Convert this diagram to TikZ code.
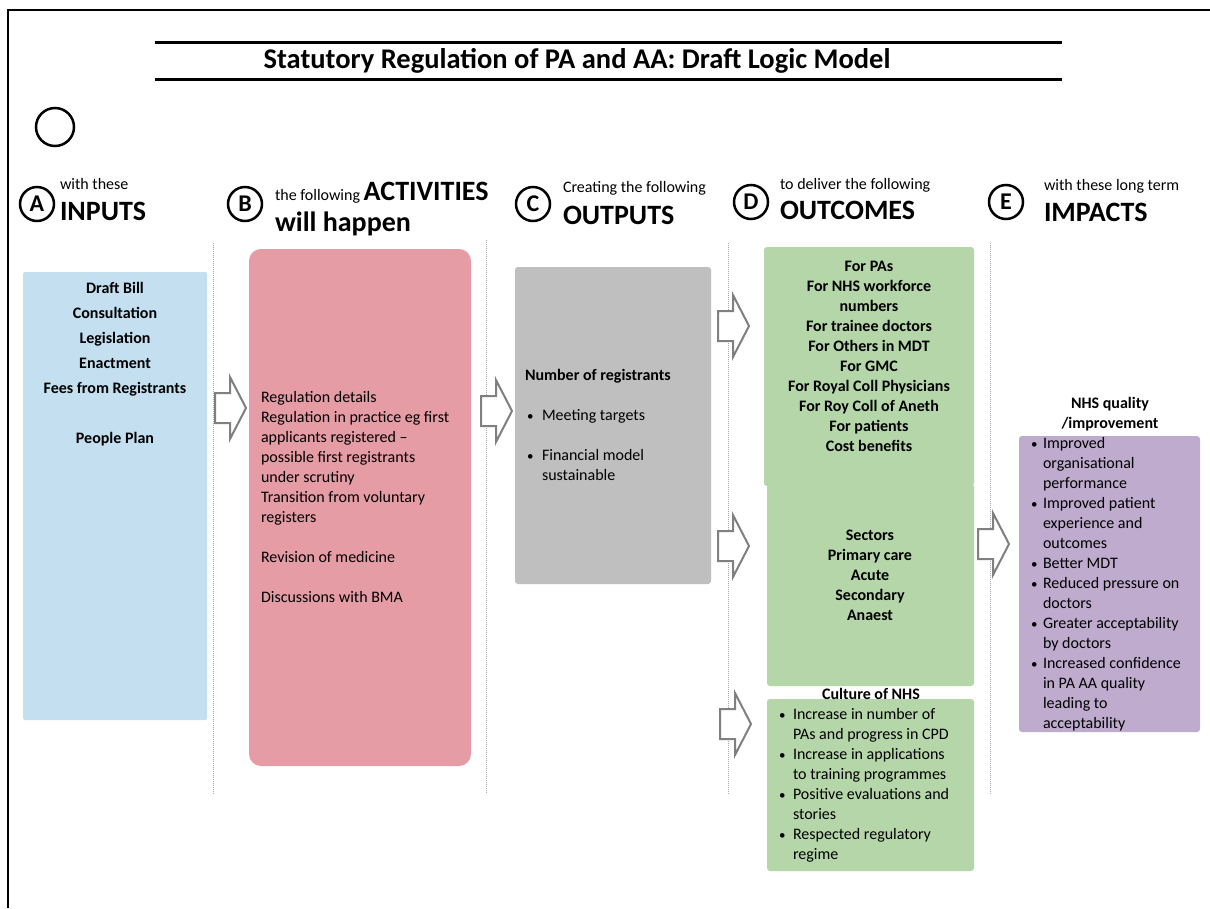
\documentclass[tikz,border=0pt]{standalone}
\usepackage{fontspec}
\setmainfont{Carlito}
\usepackage{array}
\definecolor{inblue}{HTML}{C4E0F0}
\definecolor{actpink}{HTML}{E59CA5}
\definecolor{outgrey}{HTML}{BFBFBF}
\definecolor{ocgreen}{HTML}{B5D6A9}
\definecolor{impurple}{HTML}{BEABCE}
\definecolor{arrgrey}{HTML}{808080}
\newcommand{\fs}[2]{\fontsize{#1}{#2}\selectfont}
\newcommand{\bul}[1]{\makebox[#1][l]{\hspace{2pt}{\fs{13}{13}•}}}
\tikzset{
  box/.style={inner sep=0pt, outer sep=0pt},
  txt/.style={inner sep=0pt, outer sep=0pt},
  sep/.style={draw=gray!70, line width=0.6pt, dash pattern=on 1pt off 1pt},
  circ/.style={circle, draw=black, line width=2.5pt, minimum size=34pt, inner sep=0pt, font=\fs{24}{24}\bfseries},
  blockarr/.style={draw=arrgrey, line width=2pt, fill=white, line join=miter},
}
\newcommand{\blockarrow}[3]{% name, left x, centre y
  \draw[blockarr] (#2,#3-15) -- (#2+15,#3-15) -- (#2+15,#3-31) -- (#2+31,#3) -- (#2+15,#3+31) -- (#2+15,#3+15) -- (#2,#3+15) -- cycle;
  \coordinate (#1) at (#2+15,#3);}
\begin{document}
\begin{tikzpicture}[x=1pt,y=-1pt]
\useasboundingbox (0,0) rectangle (1210,908);
\fill[white] (0,0) rectangle (1210,908);
% frame
\draw[line width=2pt] (8,908) -- (8,10) -- (1212,10);
% title
\draw[line width=3pt] (155,42) -- (1062,42);
\draw[line width=3pt] (155,79) -- (1062,79);
\node[txt, font=\fs{28.5}{28}\bfseries] (title) at (577,61) {Statutory Regulation of PA and AA: Draft Logic Model};
% empty circle
\node[circ, minimum size=38pt] (blank) at (55,127) {};
% headings
\node[circ] (cA) at (37,204) {A};
\node[txt, anchor=base west, font=\fs{16}{16}] (hA1) at (60,189) {with these};
\node[txt, anchor=base west, font=\fs{28}{28}\bfseries] (hA2) at (60,220) {INPUTS};
\node[circ] (cB) at (245,204) {B};
\node[txt, anchor=base west] (hB1) at (275,200) {\fs{16}{16}the following \fs{28}{28}\bfseries ACTIVITIES};
\node[txt, anchor=base west, font=\fs{28}{28}\bfseries] (hB2) at (275,231) {will happen};
\node[circ] (cC) at (533,204) {C};
\node[txt, anchor=base west, font=\fs{16}{16}] (hC1) at (563,192) {Creating the following};
\node[txt, anchor=base west, font=\fs{28}{28}\bfseries] (hC2) at (563,224) {OUTPUTS};
\node[circ] (cD) at (751,202) {D};
\node[txt, anchor=base west, font=\fs{16}{16}] (hD1) at (780,189) {to deliver the following};
\node[txt, anchor=base west, font=\fs{28}{28}\bfseries] (hD2) at (780,219) {OUTCOMES};
\node[circ] (cE) at (1006,202) {E};
\node[txt, anchor=base west, font=\fs{16}{16}] (hE1) at (1044,190) {with these long term};
\node[txt, anchor=base west, font=\fs{28}{28}\bfseries] (hE2) at (1044,221) {IMPACTS};
% separators
\draw[sep] (213,243) -- (213,795);
\draw[sep] (486,240) -- (486,793);
\draw[sep] (728,243) -- (728,795);
\draw[sep] (990,243) -- (990,795);
% boxes
\fill[inblue, rounded corners=2pt] (23,272) rectangle (207,720);
\fill[actpink, rounded corners=12pt] (249,249) rectangle (471,766);
\fill[outgrey, rounded corners=3pt] (515,267) rectangle (711,584);
\fill[ocgreen, rounded corners=3pt] (764,247) rectangle (974,486);
\fill[ocgreen, rounded corners=3pt] (767,484) rectangle (974,686);
\fill[ocgreen, rounded corners=3pt] (767,699) rectangle (974,871);
\fill[impurple, rounded corners=3pt] (1019,436) rectangle (1200,732);
% texts
\node[txt, anchor=north, font=\fs{16}{25}\bfseries] (inputs) at (115,276)
 {\begin{tabular}{@{}c@{}}Draft Bill\\Consultation\\Legislation\\Enactment\\Fees from Registrants\\ \\People Plan\end{tabular}};
\node[txt, anchor=north west, font=\fs{16}{20}] (acts) at (261,388)
 {\begin{tabular}{@{}l@{}}Regulation details\\Regulation in practice eg first\\applicants registered --\\possible first registrants\\under scrutiny\\Transition from voluntary\\registers\\ \\Revision of medicine\\ \\Discussions with BMA\end{tabular}};
\node[txt, anchor=north west, font=\fs{16}{20}] (outs) at (525,366)
 {\begin{tabular}{@{}l@{}l@{}}\multicolumn{2}{@{}l@{}}{\bfseries Number of registrants}\\ & \\ \bul{17pt} & Meeting targets\\ & \\ \bul{17pt} & Financial model\\ & sustainable\end{tabular}};
\node[txt, anchor=north, font=\fs{16}{20}\bfseries] (oc1) at (869,257)
 {\begin{tabular}{@{}c@{}}For PAs\\For NHS workforce\\numbers\\For trainee doctors\\For Others in MDT\\For GMC\\For Royal Coll Physicians\\For Roy Coll of Aneth\\For patients\\Cost benefits\end{tabular}};
\node[txt, anchor=north, font=\fs{16}{20}\bfseries] (oc2) at (870,526)
 {\begin{tabular}{@{}c@{}}Sectors\\Primary care\\Acute\\Secondary\\Anaest\end{tabular}};
\node[txt, font=\fs{16}{20}\bfseries] (cultt) at (871,694) {Culture of NHS};
\node[txt, anchor=north west, font=\fs{16}{20}] (cult) at (777,705)
 {\begin{tabular}{@{}l@{}l@{}}\bul{16pt} & Increase in number of\\ & PAs and progress in CPD\\ \bul{16pt} & Increase in applications\\ & to training programmes\\ \bul{16pt} & Positive evaluations and\\ & stories\\ \bul{16pt} & Respected regulatory\\ & regime\end{tabular}};
\node[txt, anchor=north, font=\fs{16}{20}\bfseries] (impt) at (1110,394)
 {\begin{tabular}{@{}c@{}}NHS quality\\/improvement\end{tabular}};
\node[txt, anchor=north west, font=\fs{16}{20}] (imp) at (1029,434)
 {\begin{tabular}{@{}l@{}l@{}}\bul{14pt} & Improved\\ & organisational\\ & performance\\ \bul{14pt} & Improved patient\\ & experience and\\ & outcomes\\ \bul{14pt} & Better MDT\\ \bul{14pt} & Reduced pressure on\\ & doctors\\ \bul{14pt} & Greater acceptability\\ & by doctors\\ \bul{14pt} & Increased confidence\\ & in PA AA quality\\ & leading to\\ & acceptability\end{tabular}};
% block arrows
\blockarrow{arrAB}{215}{408}
\blockarrow{arrBC}{481}{411}
\blockarrow{arrD1}{718}{326}
\blockarrow{arrD2}{718}{546}
\blockarrow{arrD3}{720}{724}
\blockarrow{arrDE}{978}{544}
\end{tikzpicture}
\end{document}
